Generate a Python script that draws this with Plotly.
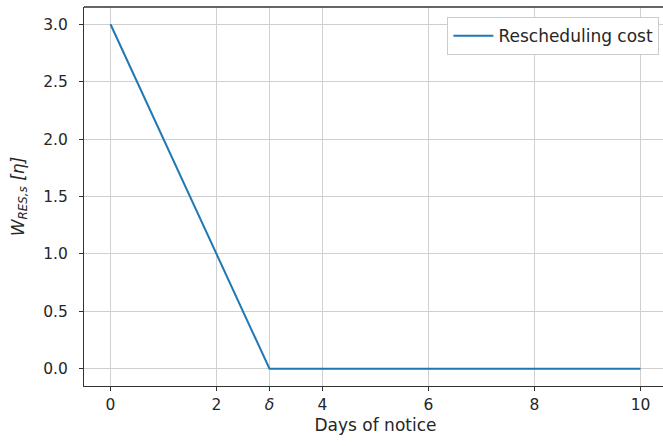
import plotly.graph_objects as go

days_of_notice = [0, 3, 10]
rescheduling_cost = [3.0, 0.0, 0.0]
x_tick_vals = [0, 2, 3, 4, 6, 8, 10]
x_tick_text = ["0", "2", "<i>δ</i>", "4", "6", "8", "10"]
y_tick_vals = [0.0, 0.5, 1.0, 1.5, 2.0, 2.5, 3.0]

font_family = "DejaVu Sans"
text_color = "#262626"

fig = go.Figure()
fig.add_trace(go.Scatter(
    x=days_of_notice, y=rescheduling_cost, mode="lines",
    name="Rescheduling cost",
    line=dict(color="#1f77b4", width=2),
))

fig.update_layout(
    width=667, height=446,
    margin=dict(l=84, r=0, t=7, b=60),
    plot_bgcolor="white", paper_bgcolor="white",
    font=dict(family=font_family, size=15.5, color=text_color),
    showlegend=True,
    legend=dict(
        x=0.987, y=0.973, xanchor="right", yanchor="top",
        bgcolor="white", bordercolor="#cccccc", borderwidth=1,
        font=dict(size=17, color=text_color),
        itemwidth=40,
    ),
    shapes=[dict(type="line", xref="paper", yref="paper", x0=0, x1=1, y0=1, y1=1,
                 line=dict(color="#333333", width=1.4), layer="above")],
)

fig.update_xaxes(
    range=[-0.5, 10.5],
    tickvals=x_tick_vals, ticktext=x_tick_text,
    tickfont=dict(size=15.5),
    showgrid=True, gridcolor="#d0d0d0", gridwidth=1.3,
    showline=True, linecolor="#333333", linewidth=1.2, mirror=False,
    ticks="outside", ticklen=4, tickcolor="#333333",
    zeroline=False,
    title=dict(text="Days of notice", font=dict(size=17), standoff=6),
)
fig.update_yaxes(
    range=[-0.15, 3.15],
    tickvals=y_tick_vals, tickformat=".1f",
    tickfont=dict(size=15.5),
    showgrid=True, gridcolor="#d0d0d0", gridwidth=1.3,
    showline=True, linecolor="#333333", linewidth=1.2, mirror=False,
    ticks="outside", ticklen=4, tickcolor="#333333",
    ticklabelstandoff=8,
    zeroline=False,
    title=dict(text="<i>W</i><sub><i>RES,s</i></sub> <i>[η]</i>", font=dict(size=17), standoff=14),
)

fig.write_html(
    "out.html",
    config={"displayModeBar": False},
    post_script="document.body.style.margin='0px';document.body.style.overflow='hidden';",
)
